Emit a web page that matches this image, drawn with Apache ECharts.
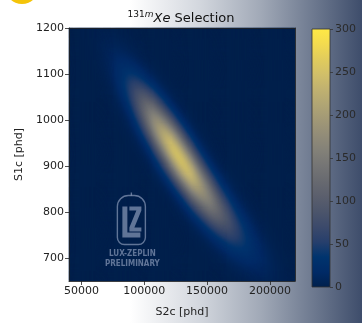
<!DOCTYPE html>
<html>
<head>
<meta charset="utf-8">
<style>
  html, body { margin: 0; padding: 0; background: #fff; }
  #chart { width: 362px; height: 323px; }
</style>
<script src="https://cdn.jsdelivr.net/npm/echarts@6/dist/echarts.min.js"></script>
</head>
<body>
<div id="chart"></div>
<script>
// Axis ranges and tick labels
const s2Range = [40000, 220000];
const s1Range = [650, 1200];
const s2Ticks = [50000, 100000, 150000, 200000];
const s1Ticks = [700, 800, 900, 1000, 1100, 1200];
const countTicks = [0, 50, 100, 150, 200, 250, 300];
const countRange = [0, 300];

// Histogram resolution (number of bins along each axis)
const s2BinCount = 220;
const s1BinCount = 250;

// 131mXe population in (S2c, S1c): main peak plus the low-S1 / high-S2 tail.
// Each entry: [mean S2, mean S1, sigma S2, sigma S1, correlation, peak counts per bin]
const xePeak = [125000, 932, 21000, 88, -0.88, 235];
const xeTail = [158000, 810, 22000, 75, -0.85, 55];

// Cividis colour scale
const cividis = [
  'rgb(0,32,76)', 'rgb(0,42,102)', 'rgb(0,52,110)', 'rgb(39,63,108)', 'rgb(60,74,107)',
  'rgb(76,85,107)', 'rgb(91,95,109)', 'rgb(104,106,112)', 'rgb(117,117,117)', 'rgb(131,129,120)',
  'rgb(146,140,120)', 'rgb(161,152,118)', 'rgb(176,165,116)', 'rgb(192,177,112)', 'rgb(209,191,105)',
  'rgb(225,204,92)', 'rgb(243,219,79)', 'rgb(255,233,69)'
];

// Bin centres
const s2Step = (s2Range[1] - s2Range[0]) / s2BinCount;
const s1Step = (s1Range[1] - s1Range[0]) / s1BinCount;
const s2Bins = [];
for (let i = 0; i < s2BinCount; i++) s2Bins.push(s2Range[0] + (i + 0.5) * s2Step);
const s1Bins = [];
for (let j = 0; j < s1BinCount; j++) s1Bins.push(s1Range[0] + (j + 0.5) * s1Step);

// Expected counts of one correlated component at (s2, s1)
function componentCounts(c, s2, s1) {
  const zx = (s2 - c[0]) / c[2];
  const zy = (s1 - c[1]) / c[3];
  const q = (zx * zx - 2 * c[4] * zx * zy + zy * zy) / (1 - c[4] * c[4]);
  return c[5] * Math.exp(-0.5 * q);
}

const cells = [];
for (let i = 0; i < s2Bins.length; i++) {
  for (let j = 0; j < s1Bins.length; j++) {
    const n = componentCounts(xePeak, s2Bins[i], s1Bins[j]) + componentCounts(xeTail, s2Bins[i], s1Bins[j]);
    cells.push([i, j, n]);
  }
}

const axisColor = '#222';
const labelFont = { color: '#222', fontSize: 11, fontFamily: 'DejaVu Sans' };
const plainNumber = v => String(v);

const chart = echarts.init(document.getElementById('chart'), null, { renderer: 'canvas' });

const colorbarFill = new echarts.graphic.LinearGradient(0, 0, 0, 1,
  cividis.map((c, k) => ({ offset: 1 - k / (cividis.length - 1), color: c })).reverse());

// LZ watermark
const wmColor = 'rgba(175,188,215,0.55)';
const wmFont = 'bold 8px "DejaVu Sans Condensed", "DejaVu Sans"';
const wmZ = 100;
const watermark = {
  type: 'group',
  left: 105,
  top: 190,
  z: wmZ,
  silent: true,
  children: [
    {
      type: 'line', z: wmZ, shape: { x1: 14, y1: 0, x2: 14, y2: 3 },
      style: { stroke: wmColor, lineWidth: 1.4 }
    },
    {
      type: 'rect', z: wmZ, shape: { x: 0, y: 3, width: 28, height: 49, r: [11, 11, 7, 7] },
      style: { fill: 'none', stroke: wmColor, lineWidth: 1.4 }
    },
    {
      type: 'polygon', z: wmZ,
      shape: { points: [[5, 14], [10, 14], [10, 40], [23, 40], [23, 45], [5, 45]] },
      style: { fill: wmColor }
    },
    {
      type: 'polygon', z: wmZ,
      shape: { points: [[12, 14], [24, 14], [24, 18], [17, 35], [24, 35], [24, 39], [12, 39], [12, 35], [19, 18], [12, 18]] },
      style: { fill: wmColor }
    },
    {
      type: 'text', z: wmZ, x: 15, y: 61,
      style: { text: 'LUX-ZEPLIN', fill: wmColor, font: wmFont, align: 'center', verticalAlign: 'middle' }
    },
    {
      type: 'text', z: wmZ, x: 15, y: 71,
      style: { text: 'PRELIMINARY', fill: wmColor, font: wmFont, align: 'center', verticalAlign: 'middle' }
    }
  ]
};

const titleBase = { fontFamily: 'DejaVu Sans', fontWeight: 'normal', color: '#111' };

chart.setOption({
  animation: false,
  backgroundColor: 'transparent',
  title: {
    text: '{sup|131}{supi|m}{it|Xe}{n| Selection}',
    left: 'center',
    top: 5,
    textStyle: {
      fontWeight: 'normal',
      rich: {
        sup: Object.assign({ fontSize: 9, verticalAlign: 'top', lineHeight: 15 }, titleBase),
        supi: Object.assign({ fontSize: 9, fontStyle: 'italic', verticalAlign: 'top', lineHeight: 15 }, titleBase),
        it: Object.assign({ fontSize: 13, fontStyle: 'italic', verticalAlign: 'bottom', lineHeight: 15 }, titleBase),
        n: Object.assign({ fontSize: 13, verticalAlign: 'bottom', lineHeight: 15 }, titleBase)
      }
    }
  },
  graphic: [
    {
      type: 'rect', left: 0, top: 0, z: -10, silent: true,
      shape: { width: 362, height: 323 },
      style: {
        fill: new echarts.graphic.LinearGradient(0, 0, 1, 0, [
          { offset: 0, color: '#ffffff' },
          { offset: 0.36, color: '#ffffff' },
          { offset: 0.55, color: '#d3d7de' },
          { offset: 0.72, color: '#a1a9b7' },
          { offset: 0.83, color: '#7a8599' },
          { offset: 1, color: '#3e4d6b' }
        ])
      }
    },
    {
      type: 'circle', left: 5, top: -30, z: -5, silent: true,
      shape: { r: 17 },
      style: { fill: '#f4c40a' }
    },
    watermark
  ],
  grid: [
    {
      left: 69, right: 67, top: 28, bottom: 36, containLabel: false,
      show: true, backgroundColor: cividis[0], borderWidth: 0
    },
    {
      left: 312, width: 18, top: 29, bottom: 36, show: true,
      backgroundColor: colorbarFill,
      borderColor: '#333', borderWidth: 0.8
    }
  ],
  xAxis: [
    {
      type: 'value', gridIndex: 0, min: s2Range[0], max: s2Range[1], z: 10,
      position: 'bottom',
      splitLine: { show: false },
      axisLine: { show: true, onZero: false, lineStyle: { color: axisColor, width: 0.8 } },
      axisTick: { show: true, length: 4, customValues: s2Ticks, lineStyle: { color: axisColor, width: 0.8 } },
      axisLabel: Object.assign({ margin: 5, customValues: s2Ticks, formatter: plainNumber }, labelFont),
      name: 'S2c [phd]', nameLocation: 'middle', nameGap: 26,
      nameTextStyle: { color: '#222', fontSize: 11, fontFamily: 'DejaVu Sans' }
    },
    {
      type: 'category', gridIndex: 0, data: s2Bins, boundaryGap: true, position: 'top', z: 10,
      axisLine: { show: true, lineStyle: { color: axisColor, width: 0.8 } },
      axisTick: { show: false }, axisLabel: { show: false }, splitLine: { show: false }
    },
    {
      type: 'category', gridIndex: 1, data: [''], show: false
    }
  ],
  yAxis: [
    {
      type: 'value', gridIndex: 0, min: s1Range[0], max: s1Range[1], z: 10,
      position: 'left',
      splitLine: { show: false },
      axisLine: { show: true, onZero: false, lineStyle: { color: axisColor, width: 0.8 } },
      axisTick: { show: true, length: 4, customValues: s1Ticks, lineStyle: { color: axisColor, width: 0.8 } },
      axisLabel: Object.assign({ margin: 5, customValues: s1Ticks, formatter: plainNumber }, labelFont),
      name: 'S1c [phd]', nameLocation: 'middle', nameGap: 40, nameRotate: 90,
      nameTextStyle: { color: '#222', fontSize: 11, fontFamily: 'DejaVu Sans' }
    },
    {
      type: 'category', gridIndex: 0, data: s1Bins, boundaryGap: true, position: 'right', z: 10,
      axisLine: { show: true, lineStyle: { color: axisColor, width: 0.8 } },
      axisTick: { show: false }, axisLabel: { show: false }, splitLine: { show: false }
    },
    {
      type: 'value', gridIndex: 1, min: countRange[0], max: countRange[1], position: 'right', z: 10,
      splitLine: { show: false },
      axisLine: { show: false },
      axisTick: { show: true, length: 3, customValues: countTicks, lineStyle: { color: '#333', width: 0.8 } },
      axisLabel: Object.assign({ margin: 5, customValues: countTicks, formatter: plainNumber }, labelFont, { color: '#2a2a2a' })
    }
  ],
  visualMap: {
    show: false,
    type: 'continuous',
    seriesIndex: 0,
    min: countRange[0],
    max: countRange[1],
    inRange: { color: cividis }
  },
  series: [
    {
      type: 'heatmap',
      xAxisIndex: 1,
      yAxisIndex: 1,
      data: cells,
      progressive: 0,
      emphasis: { disabled: true },
      silent: true
    }
  ]
});
</script>
</body>
</html>
